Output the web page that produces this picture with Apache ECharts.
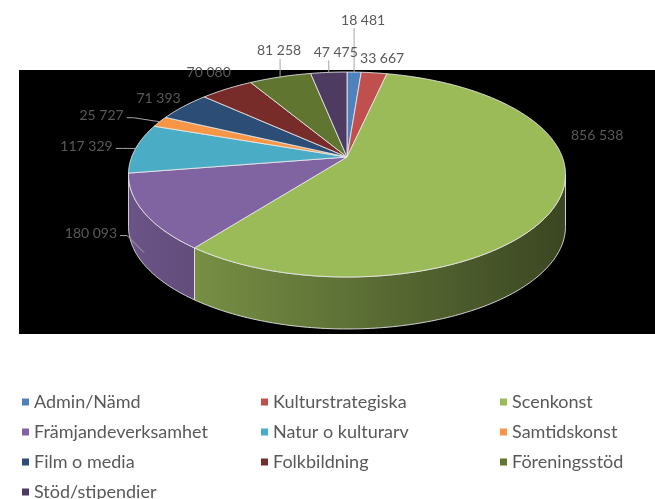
<!DOCTYPE html>
<html>
<head>
<meta charset="utf-8">
<script src="https://cdn.jsdelivr.net/npm/echarts@6/dist/echarts.min.js"></script>
<style>
  html, body { margin: 0; padding: 0; background: #fff; }
  #main { width: 655px; height: 499px; }
</style>
</head>
<body>
<div id="main"></div>
<script>
// data
var names = ['Admin/Nämd', 'Kulturstrategiska', 'Scenkonst', 'Främjandeverksamhet', 'Natur o kulturarv',
             'Samtidskonst', 'Film o media', 'Folkbildning', 'Föreningsstöd', 'Stöd/stipendier'];
var values = [18481, 33667, 856538, 180093, 117329, 25727, 71393, 70080, 81258, 47475];
var colors = ['#4F81BD', '#C0504D', '#9BBB59', '#8064A2', '#4BACC6',
              '#F79646', '#2C4D75', '#772C2A', '#5F7530', '#4D3B62'];

// layout of the tilted pie (excel-ish 3d look)
var CX = 347, CY = 157, RA = 215.3, RB = 99.5, PERSP = 0.1707, DEPTH = 52;
// label placement, relative to the slice edge point
var labelOffset = [[9, -52], [8, -14], [40, -67], [-27, -19], [-23, -2],
                   [-36, -6], [-25, -8], [-18, -16], [-1, -26], [7, -20]];
var labelAlign = ['center', 'center', 'center', 'right', 'right', 'right', 'center', 'center', 'center', 'center'];
var leaderType = ['v', '', '', 'h', 'h', 'h', '', '', 'v', 'v'];

var total = values.reduce(function (a, b) { return a + b; }, 0);
var starts = [];
var acc = 0;
values.forEach(function (v) { starts.push(acc / total * Math.PI * 2); acc += v; });

function proj(phi) {
    var s = Math.sin(phi), c = Math.cos(phi), w = 1 + PERSP * c;
    return [CX + RA * s / w, CY - RB * c / w];
}

function arc(a0, a1, dy) {
    var pts = [];
    var n = Math.max(2, Math.ceil(Math.abs(a1 - a0) / (Math.PI / 180)));
    for (var k = 0; k <= n; k++) {
        var p = proj(a0 + (a1 - a0) * k / n);
        pts.push([p[0], p[1] + dy]);
    }
    return pts;
}

function shade(hex, f) {
    var r = parseInt(hex.slice(1, 3), 16), g = parseInt(hex.slice(3, 5), 16), b = parseInt(hex.slice(5, 7), 16);
    return 'rgb(' + Math.round(r * f) + ',' + Math.round(g * f) + ',' + Math.round(b * f) + ')';
}

function fmt(v) {
    return String(v).replace(/\B(?=(\d{3})+(?!\d))/g, ' ');
}

var SIL = Math.acos(-PERSP);   // silhouette angles of the side wall
var EDGE = 'rgba(235,235,235,0.85)';

function makeRender(i) {
    return function (params, api) {
        var a0 = starts[i];
        var a1 = a0 + values[i] / total * Math.PI * 2;
        var children = [];

        // side wall (front half only)
        var lo = Math.max(a0, SIL), hi = Math.min(a1, Math.PI * 2 - SIL);
        if (lo < hi) {
            var pts = arc(lo, hi, 0).concat(arc(hi, lo, DEPTH));
            children.push({
                type: 'polygon',
                z2: 1,
                shape: { points: pts },
                style: {
                    fill: {
                        type: 'linear', x: CX - RA, y: 0, x2: CX + RA, y2: 0, global: true,
                        colorStops: [{ offset: 0, color: shade(colors[i], 0.83) },
                                     { offset: 1, color: shade(colors[i], 0.38) }]
                    },
                    stroke: EDGE,
                    lineWidth: 1
                }
            });
        }

        // top face
        children.push({
            type: 'polygon',
            z2: 5,
            shape: { points: [[CX, CY]].concat(arc(a0, a1, 0)) },
            style: { fill: colors[i], stroke: EDGE, lineWidth: 1, lineJoin: 'round' }
        });

        // label
        var mid = (a0 + a1) / 2;
        var anchor = proj(mid);
        if (leaderType[i] === 'h' && Math.cos(mid) < 0) anchor[1] += DEPTH * 0.77;
        var lx = anchor[0] + labelOffset[i][0];
        var ly = anchor[1] + labelOffset[i][1];
        if (leaderType[i] === 'v') {
            children.push({
                type: 'polyline', z2: 8,
                shape: { points: [[anchor[0], anchor[1]], [anchor[0], ly + 8]] },
                style: { stroke: '#a6a6a6', lineWidth: 1, fill: null }
            });
        } else if (leaderType[i] === 'h') {
            var yy = ly + 2;
            children.push({
                type: 'polyline', z2: 8,
                shape: { points: [[lx + 3, yy], [lx + 10, yy], [anchor[0], anchor[1]]] },
                style: { stroke: '#a6a6a6', lineWidth: 1, fill: null }
            });
        }
        children.push({
            type: 'text', z2: 10,
            x: lx, y: ly,
            style: {
                text: fmt(values[i]),
                fill: '#595959',
                fontFamily: 'Lato',
                fontSize: 14,
                align: labelAlign[i],
                verticalAlign: 'middle'
            }
        });

        return { type: 'group', children: children };
    };
}

var myChart = echarts.init(document.getElementById('main'));

// legend in 3 columns
var legends = [0, 1, 2].map(function (col) {
    return {
        orient: 'vertical',
        left: 22 + col * 239,
        top: 392,
        height: 140,
        padding: 0,
        icon: 'rect',
        itemWidth: 7,
        itemHeight: 7,
        itemGap: 10,
        selectedMode: false,
        data: names.filter(function (n, k) { return k % 3 === col; }),
        textStyle: { fontFamily: 'Lato', fontSize: 18, color: '#595959', lineHeight: 20 }
    };
});

var option = {
    animation: false,
    backgroundColor: '#fff',
    graphic: [{
        type: 'rect', z: -10, silent: true,
        shape: { x: 19, y: 70, width: 636, height: 264 },
        style: { fill: '#000' }
    }],
    legend: legends,
    series: names.map(function (n, i) {
        return {
            type: 'custom',
            name: n,
            coordinateSystem: 'none',
            itemStyle: { color: colors[i] },
            data: [values[i]],
            renderItem: makeRender(i)
        };
    })
};

myChart.setOption(option);
</script>
</body>
</html>
